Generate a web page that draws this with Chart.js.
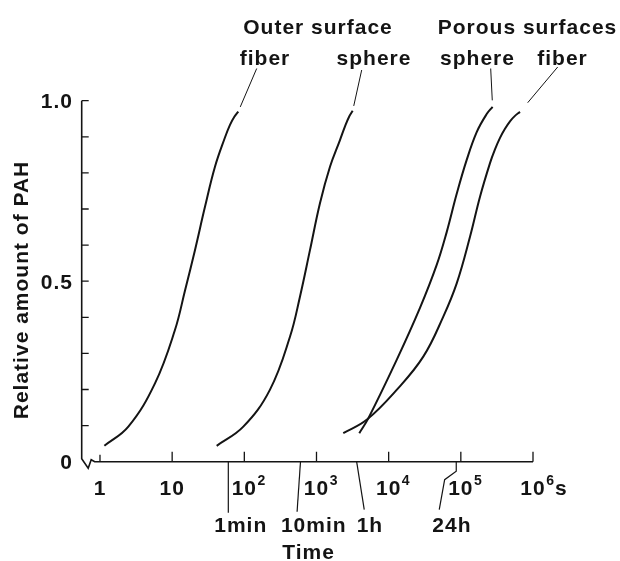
<!DOCTYPE html>
<html><head><meta charset="utf-8">
<script src="https://cdn.jsdelivr.net/npm/chart.js@4.4.1/dist/chart.umd.min.js"></script>
<style>html,body{margin:0;padding:0;background:#fff}#wrap{width:620px;height:561px;position:relative}canvas{display:block}</style>
</head><body><div id="wrap"><canvas id="c" width="620" height="561"></canvas></div>
<script>
// ---- data (time in seconds, relative amount) ----
const outerFiberX  = [1.15, 2.47, 5.78, 10.9, 15.1, 20.7, 28.5, 39.2, 53.9, 63.3, 73.1, 82.5];
const outerFiberY  = [0.044, 0.097, 0.217, 0.364, 0.475, 0.586, 0.706, 0.817, 0.898, 0.933, 0.956, 0.970];
const outerSphereX = [41.4, 96.8, 226, 429, 590, 812, 1117, 1538, 2115, 2483, 2820, 3170];
const outerSphereY = [0.044, 0.097, 0.199, 0.346, 0.457, 0.586, 0.716, 0.817, 0.891, 0.929, 0.955, 0.972];
const porousSphereX = [3917, 5224, 12920, 27160, 46300, 63700, 87700, 120600, 165900, 228100, 275500];
const porousSphereY = [0.079, 0.120, 0.282, 0.426, 0.545, 0.636, 0.742, 0.836, 0.913, 0.963, 0.983];
const porousFiberX = [2350, 4955, 12910, 30170, 57150, 87680, 134000, 184400, 253600, 297300, 348900, 409000, 479800, 562300, 660100];
const porousFiberY = [0.079, 0.116, 0.199, 0.291, 0.402, 0.494, 0.623, 0.734, 0.827, 0.865, 0.897, 0.922, 0.943, 0.958, 0.969];

const seriesNames = ['fiber', 'sphere', 'sphere', 'fiber'];
const groupNames = ['Outer surface', 'Porous surfaces'];

const xTickValues = [1, 10, 100, 1e3, 1e4, 1e5, 1e6];
const xTickBase   = ['1', '10', '10', '10', '10', '10', '10'];
const xTickExp    = ['', '', '2', '3', '4', '5', '6'];
const xTickSuffix = ['', '', '', '', '', '', 's'];
const yTickValues = [0, 0.5, 1];
const yTickLabels = ['0', '0.5', '1.0'];
const yMinorValues = [0.1, 0.2, 0.3, 0.4, 0.6, 0.7, 0.8, 0.9];
const timeMarkValues = [60, 600, 3600, 86400];
const timeMarkLabels = ['1min', '10min', '1h', '24h'];
const xTitle = 'Time';
const yTitle = 'Relative amount of PAH';

// ---- layout / style ----
const FONT = '"Liberation Sans", Arial, Helvetica, sans-serif';
const INK = '#141414';
// leader geometry below the axis, relative to each time mark (dx,dy) polyline
const timeLeaders = [
  [[0,0],[0,51]],
  [[0,0],[-3.4,50]],
  [[0,0],[7.6,48]],
  [[0,0],[0,9.5],[-11.6,18],[-17,48]]
];
const timeLabelDx = [12.4, 13.3, 13.3, -4.3];
// top labels: [text, x, baseline]
const topRow1 = [[groupNames[0], 318, 33.5], [groupNames[1], 527.5, 33.5]];
const topRow2X = [265, 374, 477.5, 562.5];
const leaderEnds = [[256.7, 68.5], [361.7, 70], [490.7, 68.5], [557.7, 67]];
const leaderGaps = [5, 5, 6.5, 12];

function mk(xs, ys) { return xs.map((x, i) => ({ x: x, y: ys[i] })); }

function setFont(ctx, size) {
  ctx.font = 'bold ' + size + 'px ' + FONT;
  if ('letterSpacing' in ctx) ctx.letterSpacing = '1px';
}
function text(ctx, s, x, y, size, align) {
  setFont(ctx, size);
  ctx.textAlign = align || 'center';
  ctx.textBaseline = 'alphabetic';
  ctx.fillText(s, x, y);
}

const axesPlugin = {
  id: 'axesPlugin',
  beforeDatasetsDraw(chart) {
    const ctx = chart.ctx, xs = chart.scales.x, ys = chart.scales.y;
    const left = chart.chartArea.left, bottom = ys.getPixelForValue(0), top = ys.getPixelForValue(1);
    const right = xs.getPixelForValue(1e6);
    ctx.save();
    ctx.strokeStyle = INK; ctx.lineWidth = 1.6; ctx.lineJoin = 'miter';
    // axis with break symbol
    ctx.beginPath();
    ctx.moveTo(left, top);
    ctx.lineTo(left, bottom - 3);
    ctx.lineTo(left + 6.5, bottom + 6.5);
    ctx.lineTo(left + 9.5, bottom - 2);
    ctx.lineTo(left + 13, bottom);
    ctx.lineTo(right, bottom);
    ctx.stroke();
    // y ticks (inward)
    ctx.lineWidth = 1.3;
    ctx.beginPath();
    yMinorValues.concat(yTickValues.filter(v => v > 0)).forEach(v => {
      const py = ys.getPixelForValue(v);
      ctx.moveTo(left, py); ctx.lineTo(left + 7, py);
    });
    // x ticks (upward)
    xTickValues.forEach((v, i) => {
      const px = xs.getPixelForValue(v);
      ctx.moveTo(px, bottom); ctx.lineTo(px, bottom - (i === 0 ? 7 : 10));
    });
    ctx.stroke();
    // time-mark leaders
    ctx.lineWidth = 1.2;
    timeMarkValues.forEach((v, i) => {
      const px = xs.getPixelForValue(v);
      const pts = timeLeaders[i];
      ctx.beginPath();
      pts.forEach((p, j) => { if (j === 0) ctx.moveTo(px + p[0], bottom + p[1]); else ctx.lineTo(px + p[0], bottom + p[1]); });
      ctx.stroke();
    });
    // curve leaders to top labels
    ctx.lineWidth = 1;
    chart.data.datasets.forEach((ds, i) => {
      const last = ds.data[ds.data.length - 1];
      const cx = xs.getPixelForValue(last.x), cy = ys.getPixelForValue(last.y);
      const ex = leaderEnds[i][0], ey = leaderEnds[i][1];
      const d = Math.hypot(ex - cx, ey - cy), g = leaderGaps[i];
      ctx.beginPath();
      ctx.moveTo(cx + (ex - cx) * g / d, cy + (ey - cy) * g / d);
      ctx.lineTo(ex, ey);
      ctx.stroke();
    });
    ctx.restore();
  },
  afterDraw(chart) {
    const ctx = chart.ctx, xs = chart.scales.x, ys = chart.scales.y;
    const bottom = ys.getPixelForValue(0);
    ctx.save();
    ctx.fillStyle = INK;
    // y tick labels
    yTickValues.forEach((v, i) => text(ctx, yTickLabels[i], 73, ys.getPixelForValue(v) + 7.5, 21, 'right'));
    // x tick labels
    xTickValues.forEach((v, i) => {
      const px = xs.getPixelForValue(v);
      const base = bottom + 33.3;
      setFont(ctx, 21);
      const w = ctx.measureText(xTickBase[i]).width - 1;
      text(ctx, xTickBase[i], px, base, 21, 'center');
      let cx = px + w / 2 + 1;
      if (xTickExp[i]) {
        setFont(ctx, 14);
        text(ctx, xTickExp[i], cx, base - 10.5, 14, 'left');
        cx += ctx.measureText(xTickExp[i]).width;
      }
      if (xTickSuffix[i]) text(ctx, xTickSuffix[i], cx, base, 21, 'left');
    });
    // time marks labels
    timeMarkValues.forEach((v, i) => {
      const px = xs.getPixelForValue(v);
      text(ctx, timeMarkLabels[i], px + timeLabelDx[i], bottom + 70, 21, 'center');
    });
    text(ctx, xTitle, 308.5, 558.5, 21, 'center');
    // y title
    ctx.save();
    ctx.translate(27.5, 290);
    ctx.rotate(-Math.PI / 2);
    text(ctx, yTitle, 0, 0, 21, 'center');
    ctx.restore();
    // top labels
    topRow1.forEach(t => text(ctx, t[0], t[1], t[2], 21, 'center'));
    seriesNames.forEach((s, i) => text(ctx, s, topRow2X[i], 65, 21, 'center'));
    ctx.restore();
  }
};

const lineStyle = { borderColor: INK, borderWidth: 2, pointRadius: 0, fill: false,
  tension: 0.4, clip: false };

new Chart(document.getElementById('c'), {
  type: 'line',
  data: {
    datasets: [
      Object.assign({ label: groupNames[0] + ' ' + seriesNames[0], data: mk(outerFiberX, outerFiberY) }, lineStyle),
      Object.assign({ label: groupNames[0] + ' ' + seriesNames[1], data: mk(outerSphereX, outerSphereY) }, lineStyle),
      Object.assign({ label: groupNames[1] + ' ' + seriesNames[2], data: mk(porousSphereX, porousSphereY) }, lineStyle),
      Object.assign({ label: groupNames[1] + ' ' + seriesNames[3], data: mk(porousFiberX, porousFiberY) }, lineStyle)
    ]
  },
  options: {
    responsive: false, animation: false, devicePixelRatio: 1,
    layout: { padding: { left: 0, right: 87, top: 100.7, bottom: 0 } },
    plugins: { legend: { display: false }, tooltip: { enabled: false } },
    scales: {
      x: { type: 'logarithmic', min: 0.558, max: 1e6,
        grid: { display: false }, border: { display: false }, ticks: { display: false },
        afterFit(s) { s.height = 99.3; } },
      y: { type: 'linear', min: 0, max: 1,
        grid: { display: false }, border: { display: false }, ticks: { display: false },
        afterFit(s) { s.width = 81.7; } }
    }
  },
  plugins: [axesPlugin]
});
</script></body></html>
